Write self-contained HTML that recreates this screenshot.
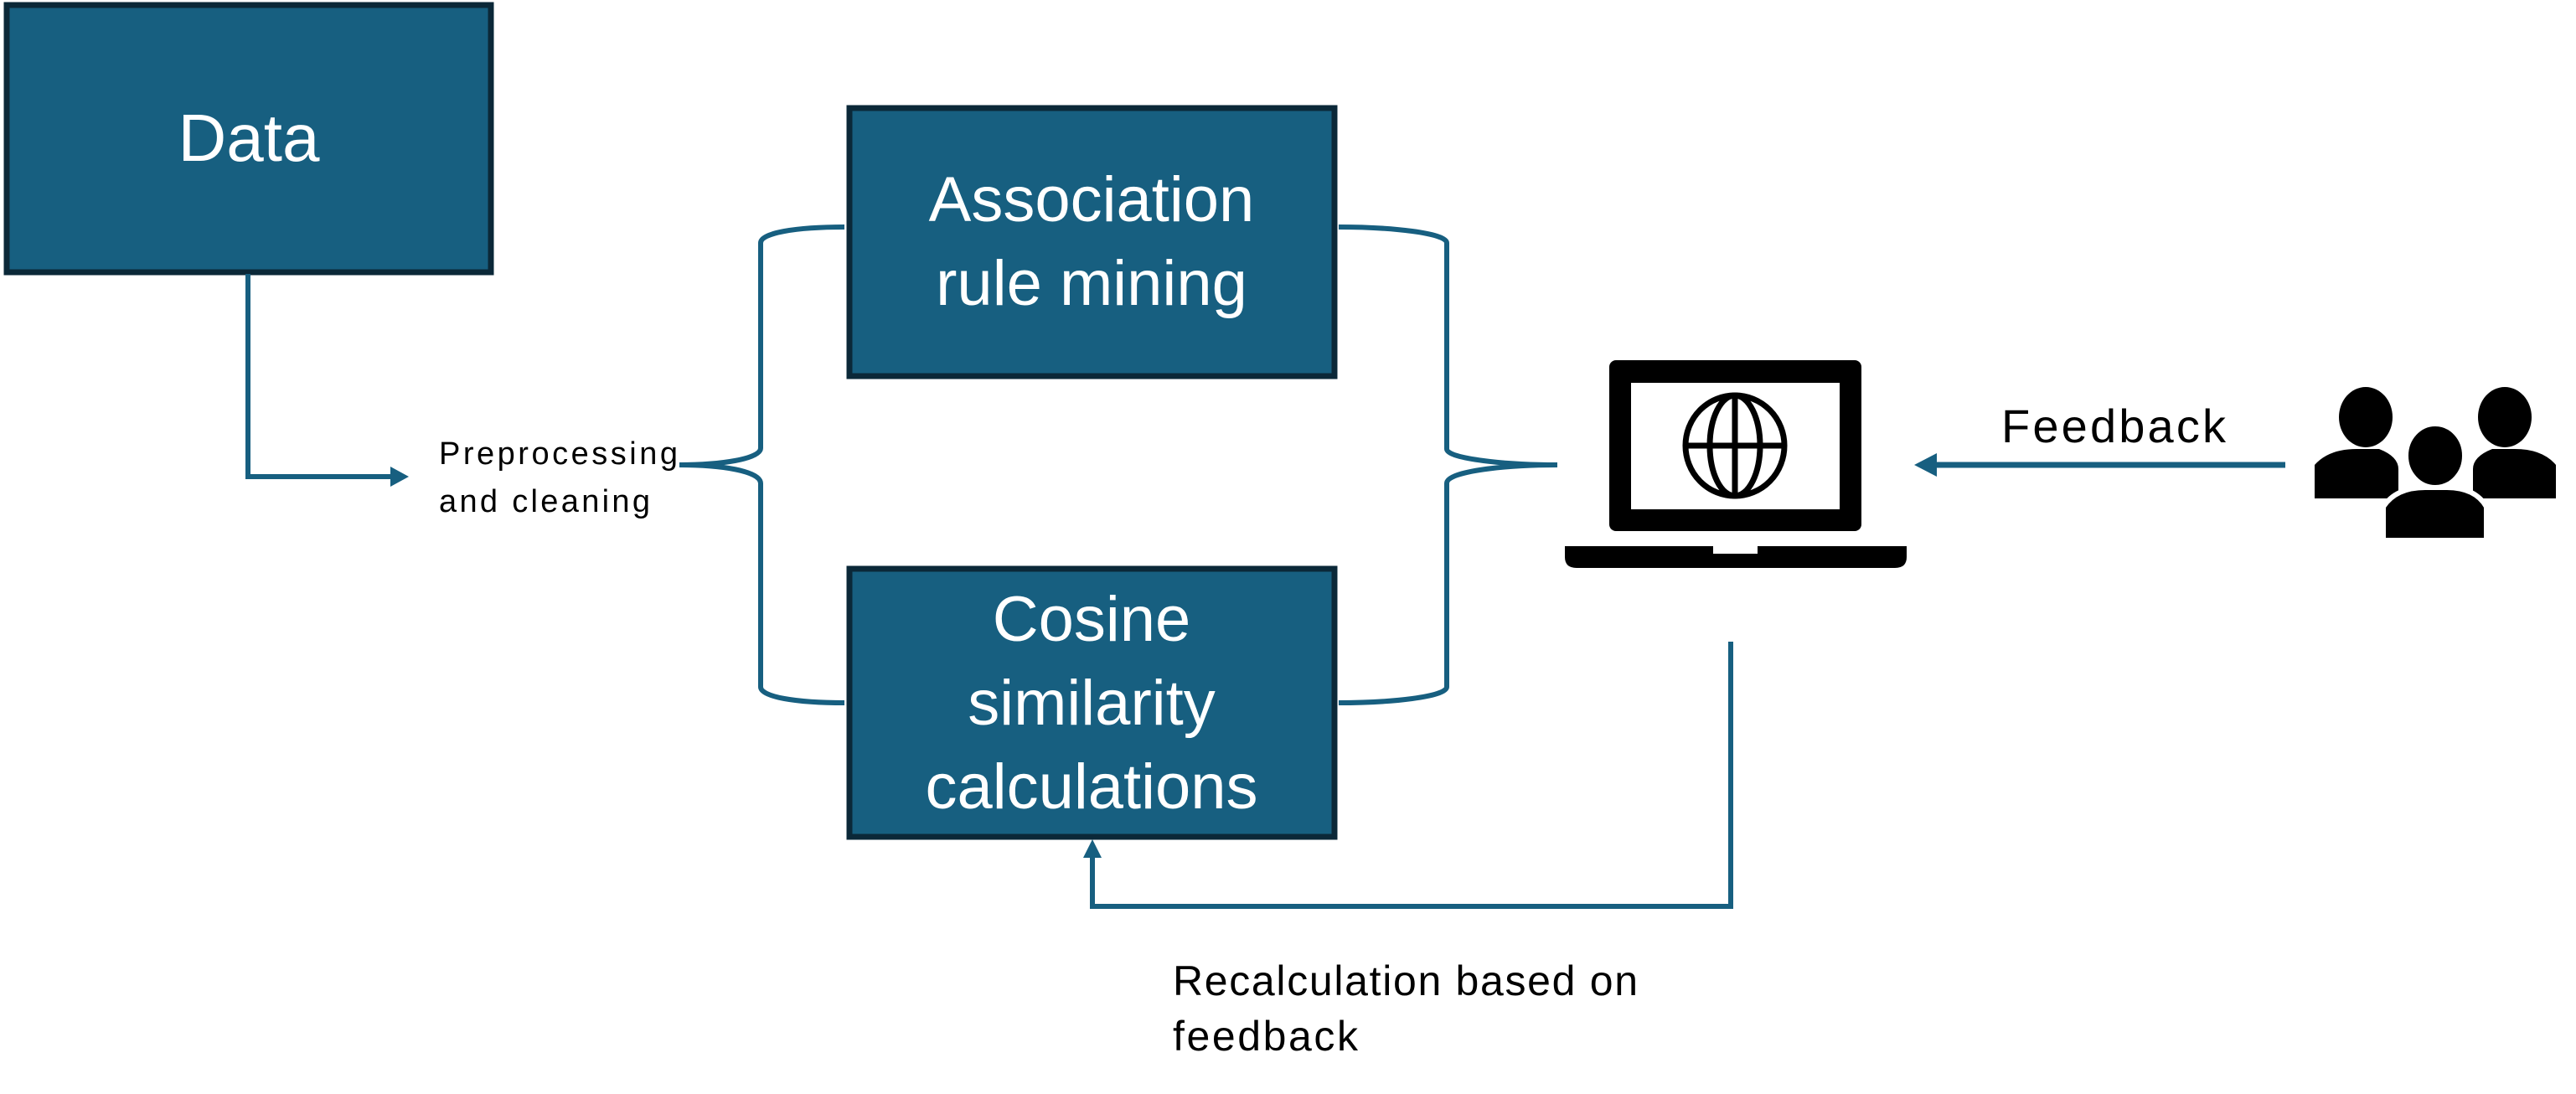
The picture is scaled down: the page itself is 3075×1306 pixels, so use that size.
<!DOCTYPE html>
<html><head><meta charset="utf-8"><style>
html,body{margin:0;padding:0;background:#fff;}
svg{display:block;}
text{font-family:"Liberation Sans",sans-serif;}
</style></head><body>
<svg width="3075" height="1306" viewBox="0 0 3075 1306" xmlns="http://www.w3.org/2000/svg">
<g fill="#175f80" stroke="#0b2838" stroke-width="7">
<rect x="8" y="6" width="578" height="319"/>
<rect x="1014" y="129" width="579" height="320"/>
<rect x="1014" y="679" width="579" height="320"/>
</g>
<g fill="#fff" font-size="76" text-anchor="middle">
<text x="297" y="192" font-size="80">Data</text>
<text x="1303" y="264">Association</text>
<text x="1303" y="364">rule mining</text>
<text x="1303" y="765">Cosine</text>
<text x="1303" y="865">similarity</text>
<text x="1303" y="965">calculations</text>
</g>
<g fill="none" stroke="#175f80" stroke-width="6">
<polyline points="296,327 296,569 470,569"/>
<path d="M811,555 C860,555 908,548 908,535 L908,290 C908,278 950,271 1008,271"/>
<path d="M811,555 C860,555 908,562 908,577 L908,820 C908,832 950,839 1008,839"/>
<path d="M1598,271 C1660,271 1727,278 1727,290 L1727,536 C1727,548 1800,555 1859,555"/>
<path d="M1598,839 C1660,839 1727,832 1727,820 L1727,577 C1727,562 1800,555 1859,555"/>
<polyline points="2066,766 2066,1082 1304,1082 1304,1020"/>
<line x1="2728" y1="555" x2="2305" y2="555" stroke-width="7"/>
</g>
<polygon points="488,569 466,557 466,581" fill="#175f80"/>
<polygon points="1304,1002 1293,1024 1315,1024" fill="#175f80"/>
<polygon points="2285,555 2312,541 2312,569" fill="#175f80"/>
<g font-size="38" fill="#000">
<text x="524" y="554" textLength="285">Preprocessing</text>
<text x="524" y="611" textLength="252">and cleaning</text>
</g>
<text x="2389" y="528" font-size="56" fill="#000" textLength="268">Feedback</text>
<g font-size="50" fill="#000">
<text x="1400" y="1188" textLength="555">Recalculation based on</text>
<text x="1400" y="1254" textLength="221">feedback</text>
</g>
<!-- laptop -->
<rect x="1921" y="430" width="301" height="204" rx="8" fill="#000"/>
<rect x="1947" y="457" width="249" height="151" fill="#fff"/>
<path d="M1868,652 L2045,652 L2045,661 L2098,661 L2098,652 L2276,652 L2276,665 Q2276,678 2262,678 L1882,678 Q1868,678 1868,665 Z" fill="#000"/>
<g fill="none" stroke="#000" stroke-width="7">
<ellipse cx="2071" cy="532" rx="59" ry="60"/>
<ellipse cx="2071" cy="532" rx="30" ry="60"/>
<line x1="2071" y1="472" x2="2071" y2="592"/>
<line x1="2012" y1="532" x2="2130" y2="532"/>
</g>
<!-- people -->
<g fill="#000">
<ellipse cx="2824" cy="498" rx="32" ry="36"/>
<path d="M2763,595 L2763,555 Q2780,536 2813,536 L2840,536 Q2863,545 2863,560 L2863,595 Z"/>
<ellipse cx="2990" cy="498" rx="32" ry="36"/>
<path d="M2952,595 L2952,560 Q2952,545 2975,536 L3002,536 Q3035,536 3051,555 L3051,595 Z"/>
</g>
<g fill="#000" stroke="#fff" stroke-width="6">
<ellipse cx="2907" cy="544" rx="35" ry="38"/>
<path d="M2845,645 L2845,605 Q2860,582 2895,582 L2920,582 Q2955,582 2968,605 L2968,645 Z"/>
</g>
</svg>
</body></html>
